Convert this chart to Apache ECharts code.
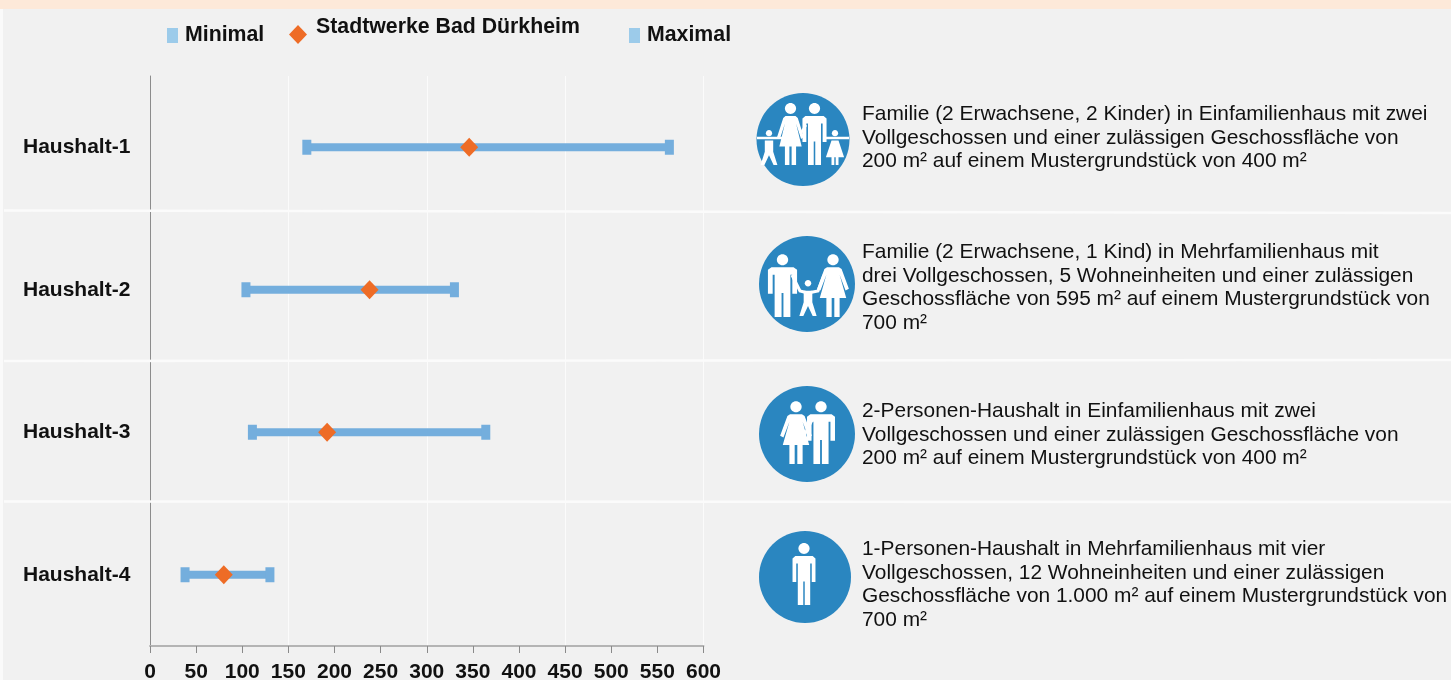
<!DOCTYPE html>
<html><head><meta charset="utf-8">
<style>html,body{margin:0;padding:0;background:#f1f1f1}#c{width:1451px;height:680px}</style>
<script src="https://cdn.jsdelivr.net/npm/echarts@6/dist/echarts.min.js"></script>
</head><body><div id="c"></div>
<script>
const categories = ['Haushalt-1','Haushalt-2','Haushalt-3','Haushalt-4'];
const minimal = [170,104,111,38];
const stadtwerke = [346,238,192,80];
const maximal = [563,330,364,130];
const xTicks = {min:0,max:600,interval:50};
const gridStep = 150;
const descriptions = [
 ['Familie (2 Erwachsene, 2 Kinder) in Einfamilienhaus mit zwei','Vollgeschossen und einer zulässigen Geschossfläche von','200 m² auf einem Mustergrundstück von 400 m²'],
 ['Familie (2 Erwachsene, 1 Kind) in Mehrfamilienhaus mit','drei Vollgeschossen, 5 Wohneinheiten und einer zulässigen','Geschossfläche von 595 m² auf einem Mustergrundstück von','700 m²'],
 ['2-Personen-Haushalt in Einfamilienhaus mit zwei','Vollgeschossen und einer zulässigen Geschossfläche von','200 m² auf einem Mustergrundstück von 400 m²'],
 ['1-Personen-Haushalt in Mehrfamilienhaus mit vier','Vollgeschossen, 12 Wohneinheiten und einer zulässigen','Geschossfläche von 1.000 m² auf einem Mustergrundstück von','700 m²']
];
const textTops = [104,242,401,539];
const FONT = '"Liberation Sans", Arial, sans-serif';
const WHITE = '#fff', BLUE = '#2a86c0';

const MAN = [[-.14,.21],[.14,.21],[.185,.25],[.185,.63],[.125,.63],[.125,.33],[.1,.33],[.1,1],[.012,1],[.012,.62],[-.012,.62],[-.012,1],[-.1,1],[-.1,.33],[-.125,.33],[-.125,.63],[-.185,.63],[-.185,.25]];
const WOMAN = [[-.09,.21],[.09,.21],[.13,.24],[.24,.55],[.19,.58],[.1,.33],[.2,.7],[.1,.7],[.1,1],[.02,1],[.02,.7],[-.02,.7],[-.02,1],[-.1,1],[-.1,.7],[-.2,.7],[-.1,.33],[-.19,.58],[-.24,.55],[-.13,.24]];
const BOY = [[-.12,.3],[.12,.3],[.12,.62],[.24,1],[.13,1],[0,.72],[-.13,1],[-.24,1],[-.12,.62]];
const GIRL = [[-.1,.3],[.1,.3],[.26,.78],[.1,.78],[.1,1],[.02,1],[.02,.78],[-.02,.78],[-.02,1],[-.1,1],[-.1,.78],[-.26,.78]];
function person(cx, top, h, outline, wx){
  wx = wx || 1;
  return [
    {type:'ellipse',z:6,shape:{cx,cy:top+h*.09,rx:h*.09,ry:h*.088},style:{fill:WHITE}},
    {type:'polygon',z:6,shape:{points:outline.map(p=>[cx+p[0]*h*wx,top+p[1]*h])},style:{fill:WHITE}}
  ];
}
function link(points,w){return {type:'polyline',z:6,shape:{points},style:{stroke:WHITE,lineWidth:w||3,fill:null}};}
const disc = (cx,cy,r)=>({type:'circle',z:5,shape:{cx,cy,r},style:{fill:BLUE}});
const icons = [
  disc(803,139.5,46.5),
  ...person(790.5,103,62,WOMAN,.9), ...person(814.5,103,62,MAN,1.05),
  ...person(769,130,35,BOY), ...person(835,130,35,GIRL),
  link([[757,138],[782,138]],2.5), link([[823,138],[849,138]],2.5),
  link([[801,133],[806,125]],2.5),
  disc(807,284,48),
  ...person(782.5,254,63,MAN,1.25), ...person(833,254,63,WOMAN,1.05),
  ...person(808,280,36,BOY),
  link([[792,275],[800,291],[808,293]],3), link([[808,293],[818,291],[824,275]],3),
  disc(807,434,48),
  ...person(796,401,63,WOMAN,1.05), ...person(821,401,63,MAN,1.2),
  link([[804,436],[812,420]],3),
  disc(805,577,46),
  ...person(804,543,62,MAN)
];
const lineTexts = descriptions.flatMap((lines,i)=>lines.map((t,j)=>({
  type:'text',z:7,left:862,top:textTops[i]+j*23.5,
  style:{text:t,fill:'#111',font:'20.9px '+FONT}
})));
const separators = [[210.5,213],[361,360],[501.5,502]].map(([a,b])=>({type:'line',z:1,shape:{x1:4,y1:a,x2:1451,y2:b},style:{stroke:'#fbfbfb',lineWidth:2.5}}));

const chart = echarts.init(document.getElementById('c'));
const legendBase = {orient:'horizontal',selectedMode:false,padding:0,itemGap:0};
const legendText = {fontFamily:FONT,fontWeight:'bold',fontSize:21.3,color:'#111'};
const SW = '#9ccbea';
chart.setOption({
  animation:false,
  backgroundColor:'#f1f1f1',
  legend:[
    {...legendBase,left:167,top:25,itemWidth:11,itemHeight:15,textStyle:{...legendText,padding:[0,0,0,2]},
      data:[{name:'Minimal',icon:'rect',itemStyle:{color:SW,opacity:1}}]},
    {...legendBase,left:289,top:17,itemWidth:18,itemHeight:19,
      formatter:'{a|{name}}',
      textStyle:{...legendText,rich:{a:{...legendText,padding:[0,0,14,4]}}},
      data:[{name:'Stadtwerke Bad Dürkheim',icon:'diamond',itemStyle:{color:'#ee6c26',opacity:1}}]},
    {...legendBase,left:629,top:25,itemWidth:11,itemHeight:15,textStyle:{...legendText,padding:[0,0,0,2]},
      data:[{name:'Maximal',icon:'rect',itemStyle:{color:SW,opacity:1}}]}
  ],
  grid:{left:150,top:76,width:553.5,height:570,containLabel:false,outerBoundsMode:'none'},
  xAxis:[{type:'value',min:xTicks.min,max:xTicks.max,interval:xTicks.interval,
    axisLine:{show:true,lineStyle:{color:'#b4b4b4',width:2}},
    axisTick:{show:true,length:7,lineStyle:{color:'#8a8a8a',width:1}},
    axisLabel:{color:'#111',fontFamily:FONT,fontWeight:'bold',fontSize:21,margin:16,hideOverlap:false},
    splitLine:{show:false}},
   {type:'value',min:xTicks.min,max:xTicks.max,interval:gridStep,position:'bottom',
    axisLine:{show:false},axisTick:{show:false},axisLabel:{show:false},
    splitLine:{show:true,lineStyle:{color:'#fbfbfb',width:1}}}],
  yAxis:{type:'category',inverse:true,data:categories,
    axisLine:{show:true,lineStyle:{color:'#8c8c8c',width:1}},
    axisTick:{show:false},
    axisLabel:{color:'#111',fontFamily:FONT,fontWeight:'bold',fontSize:21,align:'left',margin:127,padding:[2,0,0,0]},
    splitLine:{show:false}},
  series:[
    {type:'custom',name:'Spanne',z:3,silent:true,xAxisIndex:0,
      data:categories.map((c,i)=>[minimal[i],maximal[i],i]),
      encode:{x:[0,1],y:2},
      renderItem(p,api){
        const a=api.coord([api.value(0),api.value(2)]), b=api.coord([api.value(1),api.value(2)]);
        return {type:'rect',shape:{x:a[0],y:a[1]-4,width:b[0]-a[0],height:8},style:{fill:'#74aedd'}};
      }},
    {type:'scatter',name:'Minimal',z:4,xAxisIndex:0,symbol:'rect',symbolSize:[9,15],itemStyle:{color:'#74aedd',opacity:1},
      data:minimal.map((v,i)=>[v,i])},
    {type:'scatter',name:'Maximal',z:4,xAxisIndex:0,symbol:'rect',symbolSize:[9,15],itemStyle:{color:'#74aedd',opacity:1},
      data:maximal.map((v,i)=>[v,i])},
    {type:'scatter',name:'Stadtwerke Bad Dürkheim',z:5,xAxisIndex:0,symbol:'diamond',symbolSize:[18,19],itemStyle:{color:'#ee6c26',opacity:1},
      data:stadtwerke.map((v,i)=>[v,i])}
  ],
  graphic:[
    {type:'rect',z:-1,silent:true,shape:{x:0,y:0,width:1451,height:9},style:{fill:'#fde9d9'}},
    {type:'rect',z:-1,silent:true,shape:{x:0,y:9,width:3,height:671},style:{fill:'#fafafa'}},
    ...separators, ...icons, ...lineTexts
  ]
});
</script></body></html>
